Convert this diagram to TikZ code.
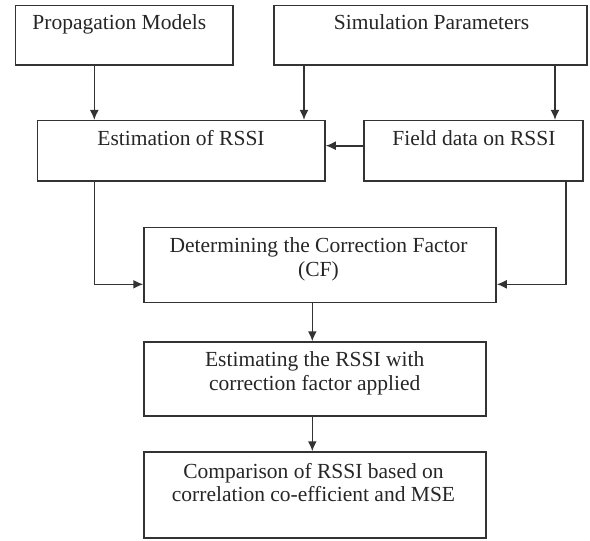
\documentclass[tikz,border=0pt]{standalone}
\usepackage{fontspec}
\setmainfont{Liberation Serif}
\usetikzlibrary{arrows.meta}
\begin{document}
\begin{tikzpicture}[x=1pt,y=-1pt,
  box/.style={draw=black!80, line width=1.5pt, rectangle, inner sep=0pt},
  txt/.style={anchor=base, align=center, inner sep=0pt, text=black!85,
    font=\fontsize{21.5}{23.7}\selectfont},
  arr/.style={draw=black!80, line width=1.6pt, -{Latex[length=10pt,width=9pt]}}]
\useasboundingbox (0,0) rectangle (590,541);
% boxes
\node[box, minimum width=217.3pt, minimum height=59.3pt] (pm) at (124.35,35.35) {};
\node[box, minimum width=313pt, minimum height=59.3pt] (sp) at (430.5,35.35) {};
\node[box, minimum width=287.3pt, minimum height=60.3pt] (est) at (181.35,150.85) {};
\node[box, minimum width=219pt, minimum height=60.3pt] (fd) at (473.5,150.85) {};
\node[box, minimum width=352pt, minimum height=75pt] (cf) at (320,265.2) {};
\node[box, minimum width=342pt, minimum height=74pt] (er) at (315,379) {};
\node[box, minimum width=342pt, minimum height=86pt] (cmp) at (315,495) {};
% texts (anchor base = baseline of last line)
\node[txt] (t1) at (119.3,29) {Propagation Models};
\node[txt] (t2) at (431.5,29) {Simulation Parameters};
\node[txt] (t3) at (181,145.7) {Estimation of RSSI};
\node[txt] (t4) at (474,145.5) {Field data on RSSI};
\node[txt] (t5) at (318.5,276) {Determining the Correction Factor\\(CF)};
\node[txt] (t6) at (314.7,390.5) {Estimating the RSSI with\\correction factor applied};
\node[txt] (t7) at (313.5,501.7) {Comparison of RSSI based on\\correlation co-efficient and MSE};
% helper coordinates
\coordinate (xa) at (94.3,0);
\coordinate (xb) at (304,0);
\coordinate (xc) at (555,0);
\coordinate (xd) at (566,0);
\coordinate (xe) at (312.3,0);
\coordinate (ya) at (0,145.7);
\coordinate (yb) at (0,284.3);
% connectors
\draw[arr] (pm.south -| xa) -- (est.north -| xa);
\draw[arr] (sp.south -| xb) -- (est.north -| xb);
\draw[arr] (sp.south -| xc) -- (fd.north -| xc);
\draw[arr] (fd.west |- ya) -- (est.east |- ya);
\draw[arr] (est.south -| xa) |- (cf.west |- yb);
\draw[arr] (fd.south -| xd) |- (cf.east |- yb);
\draw[arr] (cf.south -| xe) -- (er.north -| xe);
\draw[arr] (er.south -| xe) -- (cmp.north -| xe);
\end{tikzpicture}
\end{document}
